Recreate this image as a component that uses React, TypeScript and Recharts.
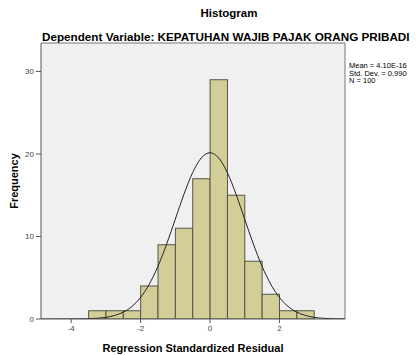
import { Bar, ComposedChart, Line, ReferenceLine, XAxis, YAxis, CartesianGrid, Label } from 'recharts'

// histogram bins (lower edge) and counts
const binStart = [-3.5, -3, -2.5, -2, -1.5, -1, -0.5, 0, 0.5, 1, 1.5, 2, 2.5]
const binWidth = 0.5
const frequency = [1, 1, 1, 4, 9, 11, 17, 29, 15, 7, 3, 1, 1]

// fitted normal curve
const curveX = [-4.87, -4.5, -4, -3.75, -3.5, -3.25, -3, -2.75, -2.5, -2.25, -2, -1.75, -1.5, -1.25, -1, -0.75, -0.5, -0.25, 0, 0.25, 0.5, 0.75, 1, 1.25, 1.5, 1.75, 2, 2.25, 2.5, 2.75, 3, 3.25, 3.5, 3.75, 3.89]
const curveY = [0, 0, 0.01, 0.02, 0.04, 0.09, 0.2, 0.43, 0.83, 1.52, 2.62, 4.22, 6.39, 9.08, 12.1, 15.12, 17.74, 19.52, 20.15, 19.52, 17.74, 15.12, 12.1, 9.08, 6.39, 4.22, 2.62, 1.52, 0.83, 0.43, 0.2, 0.09, 0.04, 0.02, 0.01]

const xTicks = [-4, -2, 0, 2]
const yTicks = [0, 10, 20, 30]
const xDomain: [number, number] = [-4.87, 3.89]
const yDomain: [number, number] = [0, 33.45]

const stats = ['Mean = 4.10E-16', 'Std. Dev. = 0.990', 'N = 100']

const bins = binStart.map((lo, i) => ({ mid: lo + binWidth / 2, count: frequency[i] }))
const curve = curveX.map((x, i) => ({ mid: x, fit: curveY[i] }))

const W = 416
const H = 355
const M = { top: 43, right: 71, bottom: 0, left: 0 }
const Y_AXIS_W = 41
const X_AXIS_H = 36
const plotW = W - M.left - M.right - Y_AXIS_W
const pxPerUnit = plotW / (xDomain[1] - xDomain[0])

const font = 'Arial, "Liberation Sans", sans-serif'

if (typeof document !== 'undefined') document.body.style.margin = '0'

// bar centred on the bin midpoint, as wide as the bin on the x scale
function HistBar(props: any) {
  const { x, y, width, height } = props
  const w = binWidth * pxPerUnit
  const cx = x + width / 2
  return <rect x={cx - w / 2} y={y} width={w} height={height} fill="#d3ce97" stroke="#55554a" strokeWidth={1} />
}

export default function App() {
  return (
    <div style={{ position: 'relative', width: W, height: H, overflow: 'hidden', background: '#fff', fontFamily: font }}>
      <div style={{ position: 'absolute', left: 0, width: 458, top: 6.5, textAlign: 'center', fontSize: 11.5, lineHeight: 'normal', fontWeight: 'bold' }}>
        Histogram
      </div>
      <div style={{ position: 'absolute', left: 42, top: 29.5, fontSize: 11.7, lineHeight: 'normal', fontWeight: 'bold', whiteSpace: 'nowrap' }}>
        Dependent Variable: KEPATUHAN WAJIB PAJAK ORANG PRIBADI
      </div>
      <div style={{ position: 'absolute', left: 349, top: 62, fontSize: 7.5, lineHeight: '7.5px' }}>
        {stats.map((s) => (
          <div key={s}>{s}</div>
        ))}
      </div>
      <ComposedChart width={W} height={H} data={bins} margin={M} barCategoryGap={0} barGap={0} style={{ position: 'absolute', left: 0, top: 0 }}>
        <CartesianGrid horizontal={false} vertical={false} fill="#f0f0f0" />
        <XAxis
          type="number"
          dataKey="mid"
          domain={xDomain}
          ticks={xTicks}
          allowDataOverflow
          height={X_AXIS_H}
          tickSize={4}
          stroke="#555"
          tick={{ fill: '#444', fontSize: 8, fontFamily: font }}
        >
          <Label value="Regression Standardized Residual" position="insideBottom" offset={3} style={{ fontSize: 11, fontWeight: 'bold', fill: '#000', fontFamily: font }} />
        </XAxis>
        <YAxis
          type="number"
          domain={yDomain}
          ticks={yTicks}
          allowDataOverflow
          width={Y_AXIS_W}
          tickSize={5}
          stroke="#555"
          tick={{ fill: '#444', fontSize: 8, fontFamily: font }}
        >
          <Label
            content={() => (
              <text x={18} y={181} transform="rotate(-90 18 181)" textAnchor="middle" style={{ fontSize: 11, fontWeight: 'bold', fontFamily: font }}>
                Frequency
              </text>
            )}
          />
        </YAxis>
        <ReferenceLine y={yDomain[1]} stroke="#777" />
        <ReferenceLine x={xDomain[1]} stroke="#777" />
        <Bar dataKey="count" shape={HistBar} isAnimationActive={false} />
        <Line data={curve} dataKey="fit" type="monotone" stroke="#222" strokeWidth={1} dot={false} isAnimationActive={false} />
      </ComposedChart>
    </div>
  )
}
